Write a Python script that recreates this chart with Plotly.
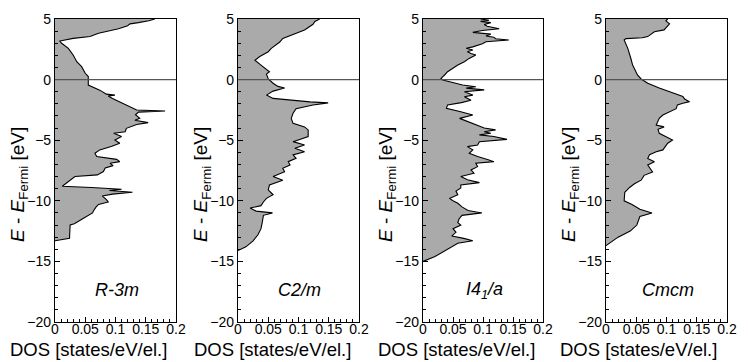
import plotly.graph_objects as go

# ---------------- data ----------------
panel_labels = ["<i>R-3m</i>", "<i>C2/m</i>", "<i>I4<sub>1</sub>/a</i>", "<i>Cmcm</i>"]

r3m_E = [5.0, 4.85, 4.7, 4.6, 4.45, 4.2, 3.82, 3.55, 3.4, 3.18, 3.0, 2.58, 2.03, 1.48, 1.07, 0.52, 0.25, 0.0,
         -0.45, -0.87, -1.2, -1.28, -1.35, -1.56, -1.98, -2.23, -2.51, -2.59, -2.68, -2.9, -3.2, -3.35, -3.55,
         -3.7, -4.02, -4.3, -4.43, -4.7, -4.98, -5.25, -5.5, -5.8, -6.08, -6.35, -6.58, -6.77, -6.9, -7.1,
         -7.3, -7.59, -7.86, -8.0, -8.4, -8.8, -8.9, -9.05, -9.15, -9.3, -9.45, -9.6, -9.9, -10.1, -10.3,
         -10.5, -10.8, -11.0, -11.5, -11.9, -12.0, -12.5, -13.1, -13.3]
r3m_D = [0.165, 0.155, 0.138, 0.124, 0.12, 0.105, 0.072, 0.058, 0.030, 0.008, 0.011, 0.022, 0.030, 0.036, 0.044,
         0.050, 0.055, 0.055, 0.055, 0.074, 0.085, 0.099, 0.088, 0.095, 0.113, 0.124, 0.135, 0.182, 0.138,
         0.133, 0.140, 0.132, 0.154, 0.135, 0.118, 0.116, 0.097, 0.110, 0.099, 0.107, 0.094, 0.074, 0.066,
         0.069, 0.102, 0.107, 0.091, 0.096, 0.083, 0.080, 0.070, 0.033, 0.022, 0.012, 0.060, 0.110, 0.090,
         0.128, 0.095, 0.078, 0.085, 0.088, 0.072, 0.068, 0.064, 0.062, 0.045, 0.032, 0.025, 0.024, 0.024, 0.0]

c2m_E = [5.0, 4.8, 4.56, 4.1, 3.4, 3.1, 2.58, 2.3, 1.9, 1.6, 1.2, 0.95, 0.65, 0.45, 0.05, -0.3, -0.56, -0.7,
         -0.95, -1.28, -1.55, -1.84, -1.92, -2.09, -2.4, -2.78, -3.2, -3.61, -3.9, -4.15, -4.7, -5.12, -5.4,
         -5.67, -5.95, -6.21, -6.5, -6.77, -7.05, -7.32, -7.6, -8.0, -8.3, -8.7, -9.1, -9.5, -9.8, -10.1,
         -10.4, -10.6, -10.85, -11.0, -11.2, -11.8, -12.3, -12.8, -13.3, -13.8, -14.1]
c2m_D = [0.135, 0.127, 0.124, 0.110, 0.074, 0.069, 0.055, 0.050, 0.036, 0.028, 0.038, 0.044, 0.052, 0.047,
         0.050, 0.058, 0.066, 0.077, 0.058, 0.047, 0.058, 0.119, 0.149, 0.124, 0.096, 0.091, 0.088, 0.091,
         0.110, 0.116, 0.116, 0.091, 0.110, 0.094, 0.110, 0.091, 0.096, 0.083, 0.086, 0.074, 0.077, 0.058,
         0.074, 0.052, 0.050, 0.058, 0.047, 0.042, 0.038, 0.020, 0.030, 0.057, 0.042, 0.040, 0.038, 0.033,
         0.025, 0.013, 0.0]

i41a_E = [5.0, 4.9, 4.8, 4.7, 4.55, 4.4, 4.2, 4.05, 3.9, 3.75, 3.6, 3.5, 3.37, 3.27, 3.12, 2.95, 2.7, 2.58,
          2.45, 2.3, 2.15, 2.03, 1.75, 1.48, 1.2, 0.93, 0.65, 0.38, 0.1, -0.03, -0.17, -0.3, -0.45, -0.59,
          -0.7, -0.85, -1.0, -1.28, -1.42, -1.7, -1.9, -2.09, -2.37, -2.65, -2.92, -3.2, -3.47, -3.75, -4.0,
          -4.15, -4.3, -4.43, -4.56, -4.7, -4.93, -5.12, -5.4, -5.53, -5.8, -6.08, -6.35, -6.63, -6.77, -6.9,
          -7.18, -7.45, -7.72, -8.0, -8.27, -8.5, -8.7, -8.95, -9.2, -9.5, -9.8, -10.0, -10.2, -10.5, -10.8,
          -11.0, -11.2, -11.5, -11.8, -12.0, -12.3, -12.6, -12.9, -13.1, -13.3, -13.5, -13.8, -14.2, -14.6, -15.0]
i41a_D = [0.096, 0.110, 0.096, 0.113, 0.102, 0.107, 0.127, 0.099, 0.083, 0.113, 0.105, 0.118, 0.121, 0.143,
          0.105, 0.099, 0.083, 0.072, 0.083, 0.074, 0.080, 0.088, 0.077, 0.069, 0.058, 0.050, 0.041, 0.036,
          0.030, 0.033, 0.044, 0.052, 0.066, 0.088, 0.072, 0.102, 0.069, 0.083, 0.069, 0.080, 0.064, 0.041,
          0.039, 0.063, 0.083, 0.061, 0.074, 0.088, 0.102, 0.121, 0.102, 0.113, 0.094, 0.118, 0.140, 0.094,
          0.091, 0.074, 0.083, 0.077, 0.091, 0.110, 0.118, 0.088, 0.091, 0.080, 0.085, 0.063, 0.074, 0.094,
          0.063, 0.063, 0.055, 0.058, 0.044, 0.050, 0.058, 0.065, 0.075, 0.098, 0.065, 0.060, 0.058, 0.063,
          0.050, 0.055, 0.048, 0.068, 0.083, 0.058, 0.048, 0.035, 0.020, 0.0]

cmcm_E = [5.0, 4.85, 4.6, 4.1, 3.95, 3.7, 3.55, 3.45, 3.38, 3.27, 2.58, 1.76, 1.2, 0.9, 0.38, 0.05, -0.3, -0.7,
          -1.1, -1.4, -1.6, -1.82, -1.95, -2.09, -2.4, -2.92, -3.2, -3.75, -3.9, -4.1, -4.43, -4.7, -4.98,
          -5.25, -5.8, -5.95, -6.2, -6.5, -6.77, -7.05, -7.45, -7.62, -7.9, -8.3, -8.6, -8.9, -9.3, -10.0,
          -10.3, -10.7, -11.0, -11.3, -12.0, -12.5, -13.0, -13.5, -13.7]
cmcm_D = [0.102, 0.099, 0.105, 0.096, 0.080, 0.074, 0.069, 0.060, 0.033, 0.030, 0.036, 0.041, 0.044, 0.047,
          0.052, 0.058, 0.069, 0.088, 0.110, 0.127, 0.130, 0.138, 0.127, 0.118, 0.116, 0.094, 0.088, 0.083,
          0.096, 0.086, 0.088, 0.099, 0.110, 0.102, 0.094, 0.083, 0.072, 0.069, 0.080, 0.069, 0.074, 0.077,
          0.063, 0.058, 0.047, 0.039, 0.031, 0.030, 0.043, 0.056, 0.076, 0.056, 0.051, 0.040, 0.020, 0.005, 0.0]

energies = [r3m_E, c2m_E, i41a_E, cmcm_E]
dos = [r3m_D, c2m_D, i41a_D, cmcm_D]

y_ticks = [-20, -15, -10, -5, 0, 5]
x_ticks = [0, 0.05, 0.1, 0.15, 0.2]
x_ticklabels = ["0", "0.05", "0.1", "0.15", "0.2"]

# ---------------- layout geometry ----------------
# page body has an 8px margin, so the figure is 8px smaller and coordinates shifted by 8px
W, H = 740, 354
x_px = [(47, 168), (230, 351), (415, 535), (598, 719)]
y_top, y_bot = 11, 314
ydom = [1 - y_bot / H, 1 - y_top / H]
xtitle_cx = [80, 264, 448, 630]
xtitle_cy = 341
ytitle_cy = 177

FONT = "Liberation Sans, Arial, Helvetica, sans-serif"

fig = go.Figure()
layout = dict(width=W, height=H, margin=dict(l=0, r=0, t=0, b=0, autoexpand=False),
              paper_bgcolor="white", plot_bgcolor="white", showlegend=False,
              font=dict(family=FONT, color="black", size=12))
annotations = []
shapes = []

for i in range(4):
    xs = "x" if i == 0 else f"x{i+1}"
    ys = "y" if i == 0 else f"y{i+1}"
    xk = "xaxis" if i == 0 else f"xaxis{i+1}"
    yk = "yaxis" if i == 0 else f"yaxis{i+1}"
    fig.add_trace(go.Scatter(x=dos[i], y=energies[i], mode="lines", fill="tozerox",
                             fillcolor="#aaaaaa", line=dict(color="black", width=1.1),
                             xaxis=xs, yaxis=ys, hoverinfo="skip"))
    xd = [x_px[i][0] / W, x_px[i][1] / W]
    layout[xk] = dict(domain=xd, range=[0, 0.2], anchor=ys, tickvals=x_ticks, ticktext=x_ticklabels,
                      ticks="inside", ticklen=5, tickcolor="black", showline=True, linecolor="black",
                      linewidth=1.2, mirror=True, showgrid=False, zeroline=False, automargin=False,
                      tickfont=dict(size=14, family=FONT), ticklabelstandoff=-6,
                      minor=dict(ticks="inside", dtick=0.01, ticklen=3, tickcolor="black", showgrid=False))
    layout[yk] = dict(domain=ydom, range=[-20, 5], anchor=xs, tickvals=y_ticks,
                      ticks="inside", ticklen=5, tickcolor="black", showline=True, linecolor="black",
                      linewidth=1.2, mirror=True, showgrid=False, zeroline=False, automargin=False,
                      tickfont=dict(size=14, family=FONT),
                      minor=dict(ticks="inside", dtick=1, ticklen=3, tickcolor="black", showgrid=False))
    # Fermi level
    shapes.append(dict(type="line", xref=f"{xs} domain", yref=ys, x0=0, x1=1, y0=0, y1=0,
                       line=dict(color="#555555", width=1.2)))
    # panel label
    annotations.append(dict(x=0.102, y=-17.4, xref=xs, yref=ys, text=panel_labels[i], showarrow=False,
                            xanchor="center", yanchor="middle",
                            font=dict(size=18, family=FONT, color="black")))
    # x title
    annotations.append(dict(x=xtitle_cx[i] / W, y=1 - xtitle_cy / H, xref="paper", yref="paper",
                            text="DOS [states/eV/el.]", showarrow=False,
                            xanchor="center", yanchor="middle",
                            font=dict(size=18.5, family=FONT, color="black")))
    # y title
    annotations.append(dict(x=(x_px[i][0] - 36) / W, y=1 - ytitle_cy / H, xref="paper", yref="paper",
                            text="<i>E</i> - <i>E</i><sub>Fermi</sub> [eV]", textangle=-90,
                            showarrow=False, xanchor="center", yanchor="middle",
                            font=dict(size=19, family=FONT, color="black")))

layout["annotations"] = annotations
layout["shapes"] = shapes
fig.update_layout(**layout)
fig.write_html("out.html")
